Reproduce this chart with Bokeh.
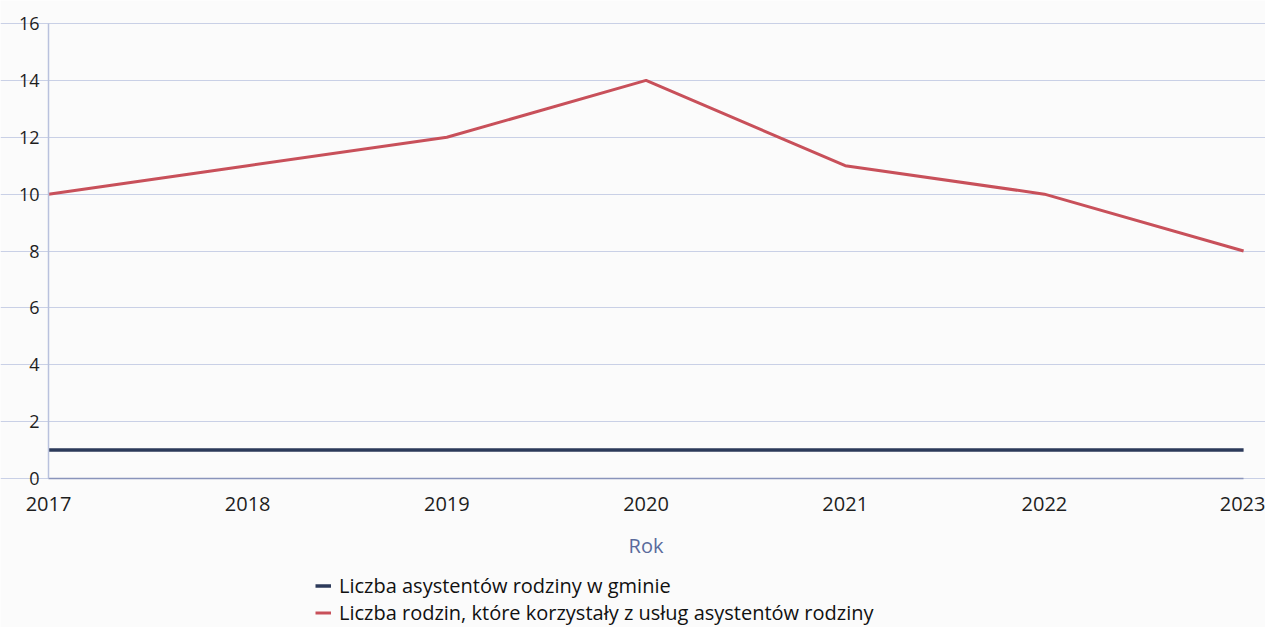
from bokeh.plotting import figure
from bokeh.models import Range1d, Legend, LegendItem, FixedTicker
from bokeh.embed import file_html
from bokeh.resources import INLINE

years = [2017, 2018, 2019, 2020, 2021, 2022, 2023]
assistants = [1, 1, 1, 1, 1, 1, 1]
families = [10, 11, 12, 14, 11, 10, 8]
y_ticks = [0, 2, 4, 6, 8, 10, 12, 14, 16]

FONT = "Open Sans"

# The frame fills the figure so that tick labels and legend are not clipped;
# axes are pinned at data positions and bounded to the data extent.
p = figure(width=1265, height=627, output_backend="svg", toolbar_location=None,
           x_range=Range1d(2016.759, 2023.110), y_range=Range1d(-5.24, 16.81),
           min_border_left=0, min_border_right=0, min_border_top=0,
           min_border_bottom=0,
           background_fill_color="#fbfbfb", border_fill_color="#fbfbfb")
p.outline_line_color = None

r1 = p.line(years, assistants, line_color="#2c3a5a", line_width=3.5)
r2 = p.line(years, families, line_color="#c8505a", line_width=3)

p.xaxis.ticker = FixedTicker(ticks=years)
p.yaxis.ticker = FixedTicker(ticks=y_ticks)
for ax in (p.xaxis[0], p.yaxis[0]):
    ax.major_tick_line_color = None
    ax.minor_tick_line_color = None
    ax.major_label_text_font = FONT
    ax.major_label_text_color = "#1e1e1e"
p.xaxis.major_label_text_font_size = "20px"
p.yaxis.major_label_text_font_size = "18px"
p.yaxis.fixed_location = 2017
p.yaxis.bounds = (0, 16)
p.yaxis.axis_line_color = "#b9c1dd"
p.yaxis.axis_line_width = 1.5
p.yaxis.major_label_standoff = 3
p.xaxis.fixed_location = 0
p.xaxis.bounds = (2017, 2023)
p.xaxis.axis_line_color = "#8a94bb"
p.xaxis.axis_line_width = 1.5
p.xaxis.major_label_standoff = 13
p.xaxis.axis_label = "Rok"
p.xaxis.axis_label_text_font = FONT
p.xaxis.axis_label_text_font_style = "normal"
p.xaxis.axis_label_text_font_size = "20px"
p.xaxis.axis_label_text_color = "#5a6b9c"
p.xaxis.axis_label_standoff = 17

p.xgrid.grid_line_color = None
p.ygrid.grid_line_color = "#c9d0e6"
p.ygrid.grid_line_width = 1.2
p.ygrid.bounds = (2017, 2023)

legend = Legend(items=[
    LegendItem(label="Liczba asystentów rodziny w gminie", renderers=[r1]),
    LegendItem(label="Liczba rodzin, które korzystały z usług asystentów rodziny", renderers=[r2]),
], orientation="vertical", location=(315, 1))
legend.label_text_font = FONT
legend.label_text_font_size = "20px"
legend.label_text_color = "#111111"
legend.background_fill_alpha = 0
legend.border_line_color = None
legend.glyph_width = 16
legend.glyph_height = 21
legend.label_height = 21
legend.label_standoff = 8
legend.spacing = -6
legend.padding = 0
legend.margin = 0
p.add_layout(legend, "center")

open("out.html", "w").write(file_html(p, INLINE))
